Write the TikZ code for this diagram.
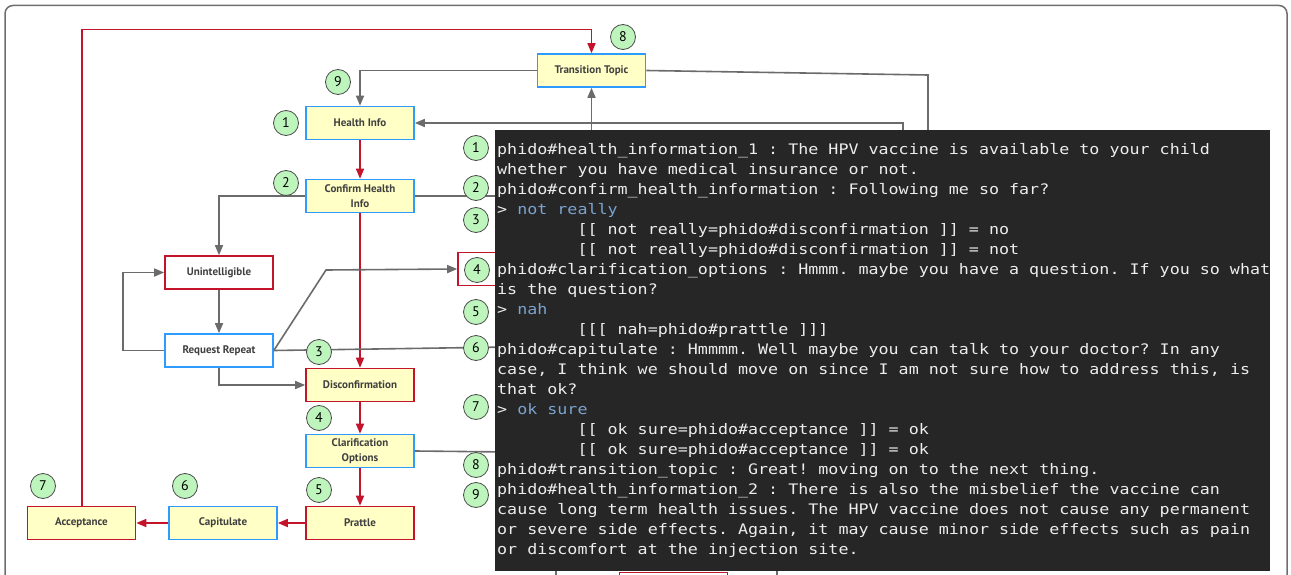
\documentclass[tikz,border=0pt]{standalone}
\usepackage{fontspec}
\setmainfont{PT Sans}
\newfontfamily\termfont[FakeStretch=1.15]{DejaVu Sans Mono}
\usetikzlibrary{arrows.meta}
\definecolor{boxyellow}{HTML}{FFFFC6}
\definecolor{boxblue}{HTML}{2E9BFF}
\definecolor{boxred}{HTML}{C4142B}
\definecolor{arrgray}{HTML}{6B6B6B}
\definecolor{labelgray}{HTML}{404040}
\definecolor{numgreen}{HTML}{BDF5BD}
\definecolor{numdraw}{HTML}{4A4A4A}
\definecolor{termbg}{HTML}{262626}
\definecolor{termfg}{HTML}{EDEDED}
\definecolor{termblue}{HTML}{7BA3CF}
\definecolor{framegray}{HTML}{6E6E6E}
\newcommand{\tind}{\hspace*{80.3pt}}
\begin{document}
\begin{tikzpicture}[x=1pt,y=-1pt,
  bluebox/.style={rectangle, draw=boxblue, line width=1.6pt, fill=boxyellow,
    minimum width=108pt, minimum height=33pt, inner sep=1pt, align=center,
    text=labelgray, font=\fontsize{11}{15}\selectfont\bfseries},
  redbox/.style={bluebox, draw=boxred},
  whitered/.style={redbox, fill=white},
  whiteblue/.style={bluebox, fill=white},
  num/.style={circle, draw=numdraw, line width=0.8pt, fill=numgreen,
    minimum size=25pt, inner sep=0pt, font=\fontsize{14}{14}\selectfont},
  redline/.style={color=boxred, line width=1.6pt},
  redarr/.style={redline, -{Triangle[length=10pt,width=8pt]}},
  grayline/.style={color=arrgray, line width=1.6pt},
  grayarr/.style={grayline, -{Triangle[length=10pt,width=8pt]}}]
\useasboundingbox (0,0) rectangle (1291,575);
\draw[framegray, line width=1.5pt, rounded corners=8pt] (5,5.5) rectangle (1287,620);

\node[bluebox] (tt) at (591.5,70.5){Transition Topic};
\node[bluebox] (hi) at (360,123){Health Info};
\node[bluebox] (chi) at (360,196){Confirm Health\\Info};
\node[whitered] (un) at (219,272.5){Unintelligible};
\node[whiteblue] (rr) at (219,350.5){Request Repeat};
\node[redbox] (dc) at (360,385){Disconfirmation};
\node[bluebox] (co) at (360,451){Clarification\\Options};
\node[redbox] (pr) at (360,523){Prattle};
\node[bluebox] (ca) at (223,523){Capitulate};
\node[redbox] (ac) at (81.5,523){Acceptance};
\node[whitered] (b4) at (512,269){};
\node[whitered] (bb) at (673.5,589){};

\coordinate (acup) at (82,29.5);
\coordinate (ttup) at (591.5,29.5);
\coordinate (hiback) at (903,140);
\coordinate (ttbend) at (928,75);
\coordinate (ttend) at (928,140);
\coordinate (ttin) at (591.5,140);
\coordinate (chiend) at (510,196);
\coordinate (rrleft) at (123,0);
\coordinate (bend4) at (326,270);
\coordinate (rrend) at (510,347);
\coordinate (coend) at (510,452);
\coordinate (bl1) at (556,560);
\coordinate (bl2) at (777,560);

\draw[redline] (ac.north -| acup) -- (acup) -- (ttup);
\draw[redarr] (ttup) -- (tt.north);
\draw[grayarr] (tt.west) -| (hi.north);
\draw[grayarr] (hiback) |- (hi.east);
\draw[grayline] (tt.east) -- (ttbend) -- (ttend);
\draw[grayarr] (ttin) -- (tt.south);
\draw[redarr] (hi) -- (chi);
\draw[grayarr] (chi.west) -| (un.north);
\draw[grayline] (chi.east) -- (chiend);
\draw[redarr] (chi) -- (dc);
\draw[grayarr] (un) -- (rr);
\draw[grayarr] (rr.west) -- (rr.west -| rrleft) |- (un.west);
\draw[grayarr] (rr.east) -- (bend4) -- (b4.west);
\draw[grayline] (rr.east) -- (rrend);
\draw[grayarr] (rr.south) |- (dc.west);
\draw[redarr] (dc) -- (co);
\draw[grayline] (co.east) -- (coend);
\draw[redarr] (co) -- (pr);
\draw[redarr] (pr) -- (ca);
\draw[redarr] (ca) -- (ac);
\draw[grayline] (bl1) -- ++(0,30);
\draw[grayline] (bl2) -- ++(0,30);

\fill[termbg] (495,130) rectangle (1270,571);
\node[anchor=north west, inner sep=0pt, align=left, text=termfg,
  font=\termfont\fontsize{14.5}{20}\selectfont\frenchspacing] (term) at (497,140){%
\vrule height 14pt width 0pt phido\#health\_information\_1 : The HPV vaccine is available to your child\\
whether you have medical insurance or not.\\
phido\#confirm\_health\_information : Following me so far?\\
> {\color{termblue}not really}\\
\tind[[ not really=phido\#disconfirmation ]] = no\\
\tind[[ not really=phido\#disconfirmation ]] = not\\
phido\#clarification\_options : Hmmm. maybe you have a question. If you so what\\
is the question?\\
> {\color{termblue}nah}\\
\tind[[[ nah=phido\#prattle ]]]\\
phido\#capitulate : Hmmmm. Well maybe you can talk to your doctor? In any\\
case, I think we should move on since I am not sure how to address this, is\\
that ok?\\
> {\color{termblue}ok sure}\\
\tind[[ ok sure=phido\#acceptance ]] = ok\\
\tind[[ ok sure=phido\#acceptance ]] = ok\\
phido\#transition\_topic : Great! moving on to the next thing.\\
phido\#health\_information\_2 : There is also the misbelief the vaccine can\\
cause long term health issues. The HPV vaccine does not cause any permanent\\
or severe side effects. Again, it may cause minor side effects such as pain\\
or discomfort at the injection site.};

\node[num] (n8) at (623,37){8};
\node[num] (n9) at (338,82){9};
\node[num] (n1) at (286,123){1};
\node[num] (n2) at (286,183){2};
\node[num] (n3) at (319,352){3};
\node[num] (n4) at (319,418){4};
\node[num] (n5) at (319,490){5};
\node[num] (n6) at (185,486){6};
\node[num] (n7) at (43,486){7};
\node[num] (t1) at (476,148){1};
\node[num] (t2) at (476,188){2};
\node[num] (t3) at (476,220){3};
\node[num] (t4) at (477,270){4};
\node[num] (t5) at (476,312){5};
\node[num] (t6) at (476,348){6};
\node[num] (t7) at (476,407){7};
\node[num] (t8) at (476,465){8};
\node[num] (t9) at (476,495){9};
\end{tikzpicture}
\end{document}
